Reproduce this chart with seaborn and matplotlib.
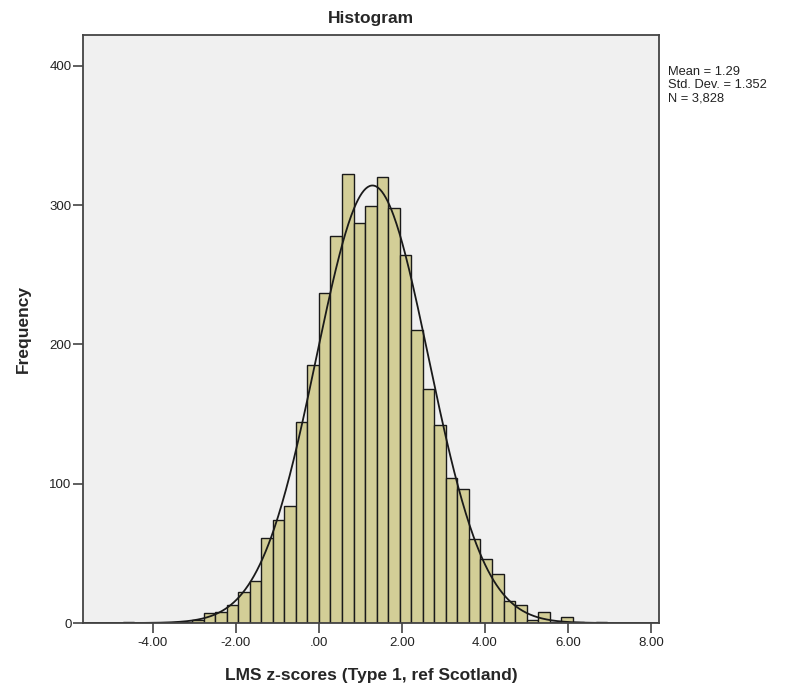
import numpy as np
import pandas as pd
import matplotlib
matplotlib.use("Agg")
import matplotlib.pyplot as plt
import seaborn as sns

# ---- data ----
bin_width = 0.278
first_bin_index = -17
counts = [1, 0, 0, 0, 0, 1, 2, 7, 8, 13, 22, 30, 61, 74, 84, 144, 185,
          237, 278, 322, 287, 299, 320, 298, 264, 210, 168, 142, 104,
          96, 60, 46, 35, 16, 13, 2, 8, 1, 4, 1, 0, 1]
stat_mean = 1.29
stat_sd = 1.352
stat_n = 3828
x_ticks = [-4, -2, 0, 2, 4, 6, 8]
x_tick_labels = ["-4.00", "-2.00", ".00", "2.00", "4.00", "6.00", "8.00"]
y_ticks = [0, 100, 200, 300, 400]

edges = (np.arange(len(counts) + 1) + first_bin_index) * bin_width
centers = (edges[:-1] + edges[1:]) / 2
df = pd.DataFrame({"z": centers, "freq": np.array(counts, dtype=float)})

sns.set_theme(style="white")
plt.rcParams["font.family"] = ["Liberation Sans", "DejaVu Sans"]

fig = plt.figure(figsize=(7.87, 6.91), dpi=100)
ax = fig.add_axes([0.1051, 0.0984, 0.7326, 0.8509])
ax.set_facecolor("#F0F0F0")

sns.histplot(data=df, x="z", weights="freq", bins=list(edges), ax=ax,
             color="#D3CE97", edgecolor="#1a1a1a", linewidth=1.0, alpha=1.0)

# normal curve from the displayed statistics
xs = np.linspace(-5.69, 8.2, 600)
ys = stat_n * bin_width / (stat_sd * np.sqrt(2 * np.pi)) * np.exp(-0.5 * ((xs - stat_mean) / stat_sd) ** 2)
sns.lineplot(x=xs, y=ys, ax=ax, color="#1a1a1a", linewidth=1.3)

ax.set_xlim(-5.69, 8.2)
ax.set_ylim(0, 422)
ax.set_xticks(x_ticks)
ax.set_xticklabels(x_tick_labels)
ax.set_yticks(y_ticks)
ax.tick_params(axis="both", direction="out", length=7, width=1.2, color="#444444",
               labelsize=9.5, labelcolor="#222222", bottom=True, left=True)
ax.tick_params(axis="x", pad=3)
ax.tick_params(axis="y", pad=1)
for s in ax.spines.values():
    s.set_visible(True)
    s.set_color("#444444")
    s.set_linewidth(1.3)

ax.set_xlabel("LMS z-scores (Type 1, ref Scotland)", fontsize=12.5, fontweight="bold", labelpad=14)
ax.set_ylabel("Frequency", fontsize=12.5, fontweight="bold", labelpad=13)
ax.set_title("Histogram", fontsize=12.5, fontweight="bold", pad=9)

fig.text(668 / 787, 1 - 66 / 691,
         "Mean = 1.29\nStd. Dev. = 1.352\nN = 3,828",
         fontsize=9.3, va="top", ha="left", color="#222222", linespacing=1.15)

fig.savefig("out.png", dpi=100)
